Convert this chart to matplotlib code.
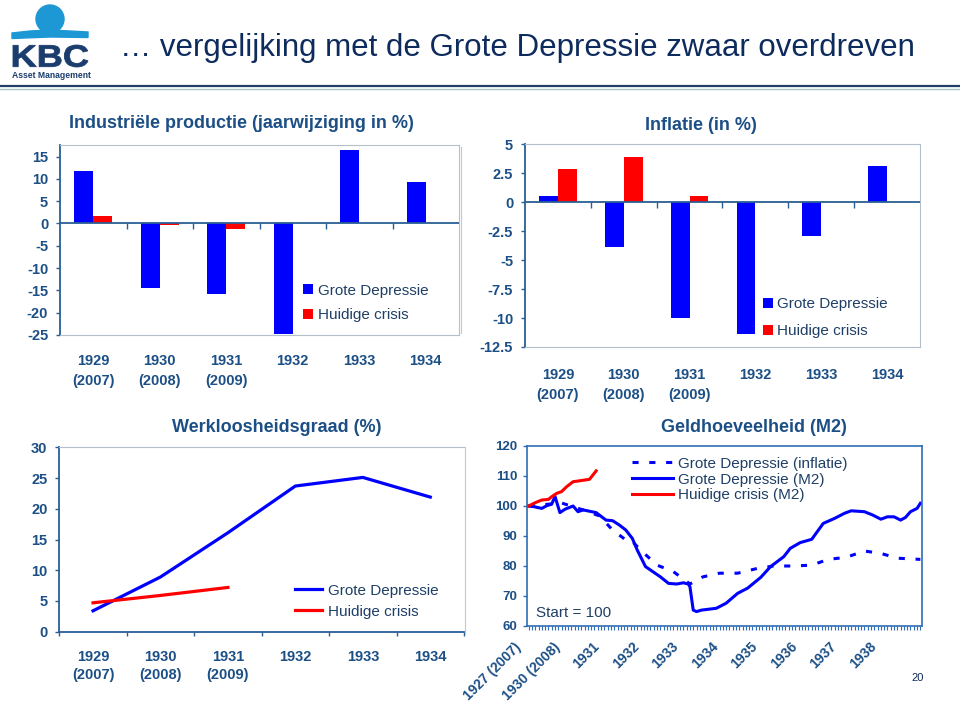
import matplotlib
matplotlib.use("Agg")
import matplotlib.pyplot as plt
import numpy as np
from matplotlib.font_manager import FontProperties
from matplotlib.lines import Line2D
from matplotlib.patches import Circle, PathPatch, Polygon
from matplotlib.textpath import TextPath
from matplotlib.transforms import Affine2D, ScaledTranslation

plt.rcParams["font.family"] = ["Liberation Sans", "DejaVu Sans"]
plt.rcParams["axes.unicode_minus"] = False

# ---- data ----
years = ["1929\n(2007)", "1930\n(2008)", "1931\n(2009)", "1932", "1933", "1934"]

# industriele productie, % y/y
ip_grote = [11.8, -14.5, -15.7, -24.7, 16.5, 9.3]
ip_huidig = [1.7, -0.3, -1.3]

# inflatie, %
infl_grote = [0.5, -3.9, -10.0, -11.4, -2.9, 3.1]
infl_huidig = [2.9, 3.9, 0.5]
infl_ticks = [5, 2.5, 0, -2.5, -5, -7.5, -10, -12.5]
infl_ticklabels = ["5", "2.5", "0", "-2.5", "-5", "-7.5", "-10", "-12.5"]

# werkloosheidsgraad, %
unemp_grote = [3.4, 8.9, 16.1, 23.7, 25.1, 21.9]
unemp_huidig = [4.7, 5.9, 7.2]

# geldhoeveelheid, months since start, start = 100
m2_months = [0, 1.5, 4, 5.5, 7, 8, 9.5, 11, 13.5, 15, 16.5, 20.5, 23.5, 25.5,
             27.5, 29.5, 31.5, 33, 35.5, 40, 42.5, 45, 47, 48.5, 49, 50, 51,
             52.5, 57, 60, 63.5, 66.5, 70.5, 73.5, 77.5, 79.5, 82.5, 86, 89.5,
             93, 96, 98, 102, 104.5, 107, 109, 111, 113, 114.5, 116, 118, 119]
m2_grote = [100, 99.8, 99.2, 100.1, 100.6, 103.2, 97.8, 98.9, 100, 98.1, 98.7,
            97.8, 95.3, 95.1, 93.7, 92, 89.2, 85.3, 79.8, 76.4, 74.2, 74, 74.4,
            74, 73.1, 65.3, 64.8, 65.3, 65.9, 67.6, 70.9, 72.6, 76.2, 79.8,
            83.1, 85.9, 87.8, 88.9, 94.2, 95.9, 97.6, 98.4, 98.1, 97, 95.6,
            96.4, 96.4, 95.3, 96.2, 98.1, 99.2, 100.9]
gd_infl_months = [0, 10, 16.5, 21.5, 25.5, 29.5, 31, 34.5, 39, 44, 49, 53, 58,
                  63.5, 69.5, 74.5, 80.5, 86, 91, 96.5, 102, 107, 112, 119]
gd_infl = [100, 101, 98.7, 96.7, 92, 88.7, 88.7, 84.8, 80.3, 78.1, 74, 76.4,
           77.6, 77.6, 79.2, 80, 80, 80.3, 82.2, 82.9, 85, 84.2, 82.6, 82.2]
m2_huidig_months = [0, 2, 4, 6, 7, 8.5, 10, 11.5, 13.5, 15.5, 18.5, 20.5]
m2_huidig = [100, 101.1, 102, 102.2, 103.1, 104.2, 104.8, 106.4, 108.1, 108.4,
             108.9, 111.7]
m2_year_labels = ["1927 (2007)", "1930 (2008)", "1931", "1932", "1933", "1934",
                  "1935", "1936", "1937", "1938"]

BLUE = "#0000ff"
RED = "#ff0000"
TEXT_BLUE = "#1c4f85"
LEGEND_TEXT = "#1f3f66"
AXIS_BLUE = "#2a5f94"
FRAME_LIGHT = "#b4bfcc"
NAVY = "#0d2b5c"

W, H = 960, 702
fig = plt.figure(figsize=(W / 100, H / 100), dpi=100)
fig.patch.set_facecolor("white")


def px_axes(left, top, right, bottom):
    return fig.add_axes([left / W, 1 - bottom / H, (right - left) / W, (bottom - top) / H])


def bold_ticks(ax, linespacing=1.5):
    for lbl in ax.get_xticklabels() + ax.get_yticklabels():
        lbl.set_fontweight("bold")
        lbl.set_linespacing(linespacing)


def bar_panel(ax, grote, huidig, ylim, yticks, yticklabels, legend_anchor, xpad,
              spacing):
    x = np.arange(len(years))
    w = 1 / 3.5
    ax.bar(x - w / 2, grote, w, color=BLUE, label="Grote Depressie", zorder=2)
    ax.bar(np.arange(len(huidig)) + w / 2, huidig, w, color=RED,
           label="Huidige crisis", zorder=2)
    ax.set_xlim(-0.5, len(years) - 0.5)
    ax.set_ylim(*ylim)
    ax.set_yticks(yticks)
    ax.set_yticklabels(yticklabels)
    ax.set_xticks(x)
    ax.set_xticklabels(years)
    for s in ["top", "right", "bottom"]:
        ax.spines[s].set_color(FRAME_LIGHT)
        ax.spines[s].set_linewidth(0.8)
    ax.spines["left"].set_color(AXIS_BLUE)
    ax.spines["left"].set_linewidth(1.3)
    ax.tick_params(axis="y", direction="out", length=3, width=1, color=AXIS_BLUE,
                   labelsize=10.5, labelcolor=TEXT_BLUE, pad=5.5)
    ax.tick_params(axis="x", length=0, labelsize=10.5, labelcolor=TEXT_BLUE, pad=xpad)
    bold_ticks(ax, 1.55)
    ax.axhline(0, color=AXIS_BLUE, lw=1.3, zorder=3)
    bounds = np.arange(0.5, len(years) - 0.5)
    ax.plot(bounds, np.zeros_like(bounds), ls="", marker=3, ms=4, mew=1,
            color=AXIS_BLUE, zorder=3)
    ax.legend(loc="upper left", bbox_to_anchor=legend_anchor, frameon=False,
              handlelength=0.65, handleheight=0.65, handletextpad=0.3,
              labelspacing=spacing, fontsize=11, borderpad=0, borderaxespad=0,
              labelcolor=LEGEND_TEXT)


# ---- header ----
fig.text(120 / W, 1 - 48 / H, "\u2026 vergelijking met de Grote Depressie zwaar overdreven",
         fontsize=22.5, color=NAVY, va="center", ha="left")
fig.add_artist(Line2D([0, 1], [1 - 86 / H] * 2, transform=fig.transFigure,
                      color="#1f3d66", lw=1.6))
fig.add_artist(Line2D([0, 1], [1 - 88.8 / H] * 2, transform=fig.transFigure,
                      color="#a9c3c3", lw=1.0))

logo = fig.add_axes([0, 1 - 85 / H, 100 / W, 85 / H])
logo.set_xlim(0, 100)
logo.set_ylim(85, 0)
logo.axis("off")
logo.add_patch(Circle((50, 19), 14, color="#1e98d5"))
logo.add_patch(Polygon([(12, 38.5), (12, 33), (30, 31), (50, 30), (70, 31),
                        (88, 32), (88, 37.5), (50, 37)], closed=True, color="#1e98d5"))
# KBC letters, stretched to the wide logo type
kbc = TextPath((0, 0), "KBC", size=30,
               prop=FontProperties(family="Liberation Sans", weight="bold"))
ext = kbc.get_extents()
kbc_tf = (Affine2D().translate(-ext.x0, -ext.y0)
          .scale(75 / ext.width, -22 / ext.height).translate(13, 67))
logo.add_patch(PathPatch(kbc_tf.transform_path(kbc), color="#1b3d6e", lw=0.6))
logo.text(51, 77.5, "Asset Management", fontsize=6.2, fontweight="bold",
          color="#1b3d6e", ha="center", va="baseline")

# ---- Industriele productie ----
ax1 = px_axes(60, 145, 459, 335)
bar_panel(ax1, ip_grote, ip_huidig, (-25, 17.6), np.arange(-25, 16, 5),
          [str(v) for v in np.arange(-25, 16, 5)], (0.609, 0.27), 13.5, 0.7)
fig.text(241 / W, 1 - 123 / H, "Industri\u00eble productie (jaarwijziging in %)",
         fontsize=13, fontweight="bold", color=TEXT_BLUE, ha="center", va="center")

# ---- Inflatie ----
ax2 = px_axes(525, 144.3, 920, 347)
bar_panel(ax2, infl_grote, infl_huidig, (-12.5, 5), infl_ticks, infl_ticklabels,
          (0.602, 0.245), 15, 0.85)
fig.text(701 / W, 1 - 125 / H, "Inflatie (in %)", fontsize=13, fontweight="bold",
         color=TEXT_BLUE, ha="center", va="center")

# ---- Werkloosheidsgraad ----
ax3 = px_axes(59.3, 447.3, 464, 631.7)
x = np.arange(len(years))
ax3.plot(x, unemp_grote, color=BLUE, lw=2.3, label="Grote Depressie")
ax3.plot(np.arange(len(unemp_huidig)), unemp_huidig, color=RED, lw=2.3,
         label="Huidige crisis")
ax3.set_xlim(-0.5, len(years) - 0.5)
ax3.set_ylim(0, 30)
ax3.set_yticks(np.arange(0, 31, 5))
ax3.set_xticks(x)
ax3.set_xticklabels(years)
ax3.set_xticks(np.arange(-0.5, len(years)), minor=True)
ax3.spines["right"].set_visible(False)
ax3.spines["top"].set_color(FRAME_LIGHT)
ax3.spines["top"].set_linewidth(0.8)
for s in ["left", "bottom"]:
    ax3.spines[s].set_color(AXIS_BLUE)
    ax3.spines[s].set_linewidth(1.3)
ax3.tick_params(axis="y", direction="out", length=3, width=1, color=AXIS_BLUE,
                labelsize=10.5, labelcolor=TEXT_BLUE, pad=5.5)
ax3.tick_params(axis="x", which="major", length=0, labelsize=10.5,
                labelcolor=TEXT_BLUE, pad=13)
ax3.tick_params(axis="x", which="minor", direction="out", length=3, width=1,
                color=AXIS_BLUE)
bold_ticks(ax3, 1.35)
ax3.legend(loc="upper left", bbox_to_anchor=(0.582, 0.26), frameon=False,
           handlelength=1.8, handletextpad=0.35, labelspacing=0.45, fontsize=11,
           borderpad=0, borderaxespad=0, labelcolor=LEGEND_TEXT)
fig.text(277 / W, 1 - 427 / H, "Werkloosheidsgraad (%)", fontsize=13,
         fontweight="bold", color=TEXT_BLUE, ha="center", va="center")

# ---- Geldhoeveelheid (M2) ----
ax4 = px_axes(527, 446, 922, 626)
ax4.plot(gd_infl_months, gd_infl, color=BLUE, lw=2.2, ls=(0, (2, 3.5)),
         label="Grote Depressie (inflatie)")
ax4.plot(m2_months, m2_grote, color=BLUE, lw=2.2, label="Grote Depressie (M2)")
ax4.plot(m2_huidig_months, m2_huidig, color=RED, lw=2.2, label="Huidige crisis (M2)")
ax4.set_xlim(-0.5, 119.5)
ax4.set_ylim(60, 120)
ax4.set_yticks(np.arange(60, 121, 10))
ax4.set_xticks(np.arange(0, 120, 12))
ax4.set_xticklabels(m2_year_labels, rotation=45, ha="right", va="center",
                    rotation_mode="anchor")
ax4.set_xticks(np.arange(0, 120, 1), minor=True)
for s in ax4.spines.values():
    s.set_color("#2e6db4")
    s.set_linewidth(1.2)
ax4.tick_params(axis="y", direction="out", length=3, width=1, color="#2e6db4",
                labelsize=9.5, labelcolor=TEXT_BLUE, pad=4)
ax4.tick_params(axis="x", which="both", direction="out", length=3, width=0.8,
                color="#2e6db4", labelsize=10, labelcolor=TEXT_BLUE, pad=10.5)
bold_ticks(ax4)
shift_left = ScaledTranslation(-0.1, 0, fig.dpi_scale_trans)
for lbl in ax4.get_xticklabels():
    lbl.set_transform(lbl.get_transform() + shift_left)
ax4.legend(loc="upper left", bbox_to_anchor=(0.266, 0.94), frameon=False,
           handlelength=2.7, handletextpad=0.3, labelspacing=0.12, fontsize=11,
           borderpad=0, borderaxespad=0, labelcolor=LEGEND_TEXT)
ax4.text(0.023, 0.035, "Start = 100", transform=ax4.transAxes, fontsize=11,
         color=LEGEND_TEXT, ha="left", va="bottom")
fig.text(754 / W, 1 - 427 / H, "Geldhoeveelheid (M2)", fontsize=13,
         fontweight="bold", color=TEXT_BLUE, ha="center", va="center")

# faint frame edges of the pasted charts
fig.add_artist(Line2D([461 / W] * 2, [1 - 147 / H, 1 - 333 / H],
                      transform=fig.transFigure, color="#c8c8c8", lw=0.8))
fig.add_artist(Line2D([465 / W] * 2, [1 - 447 / H, 1 - 633 / H],
                      transform=fig.transFigure, color="#c8c8c8", lw=0.8))

fig.text(918 / W, 1 - 678 / H, "20", fontsize=8, color=NAVY, ha="center", va="center")

fig.savefig("out.png", dpi=100)
